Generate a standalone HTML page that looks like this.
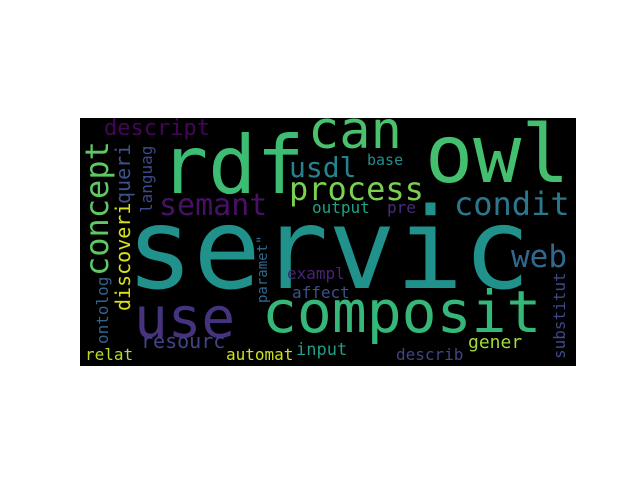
<!DOCTYPE html>
<html><head><meta charset="utf-8"><style>
html,body{margin:0;padding:0;background:#fff;}
svg{display:block;}
text{font-family:"DejaVu Sans Mono","Liberation Mono",monospace;}
</style></head><body>
<svg width="640" height="480">
<rect x="80" y="118" width="496" height="248" fill="#000"/>
<g id="words"></g>
</svg>
<script>
const words = ["servic","rdf","owl","can","composit","use","process","condit","web","semant","usdl","descript","concept","discoveri","queri","languag","ontolog","paramet\"","resourc","relat","automat","exampl","affect","input","output","pre","base","gener","describ","substitut"];
const sizes = [112,80,80,52,58,56,32,32,31,30,28,22,32,20,20,16,16,14,20,16,16,16,16,17,16,16,15,18,16,16];
const xs = [126,160,425,308,262,134,289,454,511,159,289,104,108,130,130,152,108,267,141,85,226,287,292,296,312,387,367,468,396,565];
const ys = [288,193,182,148,332,337,200,215,267,215,177,135,276,311,204,213,344,303,348,360,360,279,298,355,213,213,165,348,360,359];
const vertical = [0,0,0,0,0,0,0,0,0,0,0,0,1,1,1,1,1,1,0,0,0,0,0,0,0,0,0,0,0,1];
const colors = ["#21918c","#3dbc74","#44bf70","#4ac16d","#35b779","#46337e","#7ad151","#2a788e","#31688e","#471164","#26828e","#450559","#5ec962","#d8e219","#3b528b","#3e4989","#33638d","#31688e","#414487","#b5de2b","#d0e11c","#482475","#3b528b","#1f9e89","#1fa187","#472d7b","#218f8d","#a0da39","#414487","#3e4989"];
const g = document.getElementById('words');
words.forEach((w,i)=>{
  const t = document.createElementNS('http://www.w3.org/2000/svg','text');
  
  
  t.setAttribute('x', xs[i]);
  t.setAttribute('y', ys[i]);
  t.setAttribute('font-size', sizes[i]);
  t.setAttribute('fill', colors[i]);
  if (vertical[i]) t.setAttribute('transform', 'rotate(-90 ' + xs[i] + ' ' + ys[i] + ')');
  t.textContent = w;
  g.appendChild(t);
});
</script>
</body></html>
